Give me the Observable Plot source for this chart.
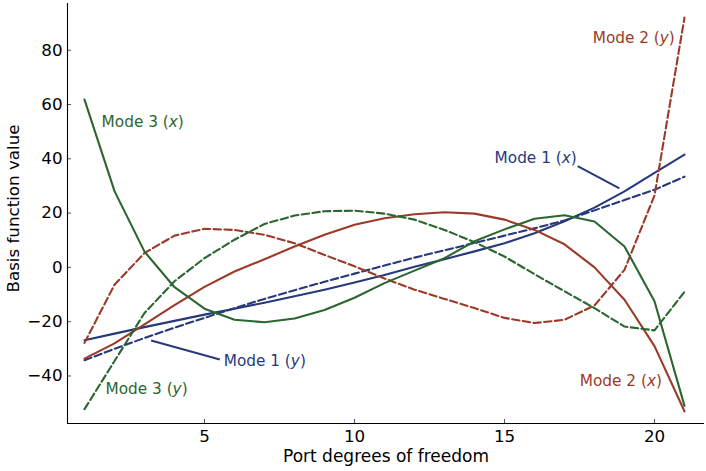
<!DOCTYPE html>
<html><head><meta charset="utf-8">
<script src="https://cdn.jsdelivr.net/npm/d3@7"></script>
<script src="https://cdn.jsdelivr.net/npm/@observablehq/plot@0.6"></script>
<style>body{margin:0;background:#fff} svg{display:block}</style>
</head><body><div id="chart"></div>
<script>
const ports = [1,2,3,4,5,6,7,8,9,10,11,12,13,14,15,16,17,18,19,20,21];
const mode1x = [-26.8,-24.4,-22,-19.7,-17.4,-15.2,-13,-10.6,-8.2,-5.6,-2.8,0.2,3,5.9,8.9,12.6,17,22,28,34.8,41.5];
const mode1y = [-34.2,-30,-26,-22.2,-18.6,-15,-11.6,-8.4,-5.3,-2.3,0.7,3.6,6.3,9,11.7,14.4,17.3,21,24.8,28.6,33.4];
const mode2x = [-33.6,-28,-21,-13.9,-7.2,-1.5,3,7.7,12,15.7,18.1,19.6,20.3,19.8,17.6,13.8,8.5,0,-11.9,-29,-53];
const mode2y = [-27.8,-6.4,5.3,11.7,14.2,13.8,12,8.9,4.6,0.4,-4.1,-8.2,-11.6,-15,-18.6,-20.5,-19.3,-14,-0.9,26.5,92];
const mode3x = [61.8,28.1,5.8,-7.3,-15.2,-19.3,-20.2,-18.8,-15.7,-11.2,-5.8,-1.2,3.4,9.6,14,17.9,19.2,16.9,7.7,-12.5,-51];
const mode3y = [-52.2,-34.5,-16.8,-5.1,3.4,10.2,16,19.1,20.7,20.9,19.8,17.6,13.8,9.3,4,-2.5,-8.8,-15,-21.8,-23.2,-9];

const xTicks = [5,10,15,20];
const yTicks = [-40,-20,0,20,40,60,80];
const xDomain = [0.433, 21.667];
const yDomain = [-57.5, 97.2];
const xLabel = "Port degrees of freedom";
const yLabel = "Basis function value";

const NAVY = "#27397b", RED = "#9b3a28", GREEN = "#2b6630";
const series = [
  {name: "Mode 1 (x)", values: mode1x, color: NAVY, dashed: false},
  {name: "Mode 1 (y)", values: mode1y, color: NAVY, dashed: true},
  {name: "Mode 2 (x)", values: mode2x, color: RED, dashed: false},
  {name: "Mode 2 (y)", values: mode2y, color: RED, dashed: true},
  {name: "Mode 3 (x)", values: mode3x, color: GREEN, dashed: false},
  {name: "Mode 3 (y)", values: mode3y, color: GREEN, dashed: true}
];
const labelNames = ["Mode 3 (x)", "Mode 1 (x)", "Mode 2 (y)", "Mode 1 (y)", "Mode 3 (y)", "Mode 2 (x)"];
const labelX = [1.57, 14.67, 17.94, 5.64, 1.70, 17.51];
const labelY = [53.6, 40.4, 84.6, -34.5, -45.0, -41.9];
const labelColor = [GREEN, NAVY, RED, NAVY, GREEN, RED];
const labels = labelNames.map((t, i) => ({text: t, x: labelX[i], y: labelY[i], color: labelColor[i]}));
const leaders = [
  {x1: 17.44, y1: 37.3, x2: 18.83, y2: 29.1, color: NAVY},
  {x1: 3.22, y1: -26.9, x2: 5.51, y2: -33.9, color: NAVY}
];

const marks = [];
for (const s of series) {
  marks.push(Plot.line(ports, {
    x: d => d, y: (d, i) => s.values[i],
    stroke: s.color, strokeWidth: 2.1,
    strokeDasharray: s.dashed ? "7.4,3.4" : null,
    strokeLinejoin: "round"
  }));
}
marks.push(
  Plot.link(leaders, {x1: "x1", y1: "y1", x2: "x2", y2: "y2", stroke: "color", strokeWidth: 2.1}),
  Plot.text(labels, {x: "x", y: "y", text: "text", fill: "color", textAnchor: "start", fontSize: 15.3, className: "anno"}),
  Plot.tickX(xTicks, {x: d => d, insetTop: 416, stroke: "#555", strokeWidth: 1}),
  Plot.tickY(yTicks, {y: d => d, insetRight: 633, stroke: "#555", strokeWidth: 1}),
  Plot.axisX({ticks: xTicks, tickSize: 0, tickPadding: 7, fontSize: 16.7, label: null}),
  Plot.axisY({ticks: yTicks, tickSize: 0, tickPadding: 5, fontSize: 16.7, label: null, tickFormat: d => d < 0 ? "\u2212" + Math.abs(d) : String(d)}),
  Plot.ruleX([xDomain[0]], {stroke: "black", strokeWidth: 1.1}),
  Plot.ruleY([yDomain[0]], {stroke: "black", strokeWidth: 1.1}),
  Plot.text([xLabel], {frameAnchor: "bottom", dy: 33, fontSize: 17, fill: "black", lineAnchor: "middle", textAnchor: "middle"}),
  Plot.text([yLabel], {frameAnchor: "left", dx: -54, dy: -5, rotate: -90, fontSize: 16.7, fill: "black", lineAnchor: "middle", textAnchor: "middle"})
);

const chart = Plot.plot({
  width: 706, height: 471,
  marginLeft: 67, marginRight: 2, marginTop: 3, marginBottom: 48,
  x: {domain: xDomain, axis: null},
  y: {domain: yDomain, axis: null},
  style: {fontFamily: "DejaVu Sans", background: "white", color: "black", overflow: "visible"},
  marks
});

// italicize the (x)/(y) variable in annotation labels
d3.select(chart).selectAll("g.anno text").each(function() {
  const t = d3.select(this);
  const s = t.text();
  const m = s.match(/^(.*\()([xy])(\))$/);
  if (!m) return;
  t.text(null);
  t.append("tspan").text(m[1]);
  t.append("tspan").attr("font-style", "italic").text(m[2]);
  t.append("tspan").text(m[3]);
});

document.getElementById("chart").appendChild(chart);
</script>
</body></html>
